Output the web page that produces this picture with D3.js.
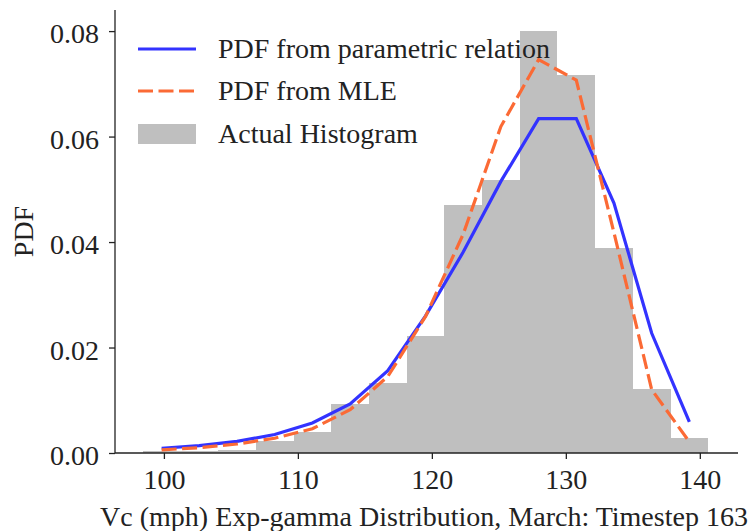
<!DOCTYPE html>
<html>
<head>
<meta charset="utf-8">
<script src="https://cdn.jsdelivr.net/npm/d3@7"></script>
<style>
  body { margin: 0; background: #fff; }
  svg { display: block; }
  svg text { font-family: "Liberation Serif", "Times New Roman", serif; }
</style>
</head>
<body>
<svg id="chart" width="753" height="531"></svg>
<script>
// histogram bin edges (mph) and bar heights (density)
const binEdges = [98.42, 101.23, 104.05, 106.86, 109.68, 112.49, 115.30, 118.12,
  120.93, 123.75, 126.56, 129.37, 132.19, 135.00, 137.82, 140.63];
const histDensity = [0.0004, 0.0003, 0.0006, 0.0022, 0.0040, 0.0093, 0.0133, 0.0221,
  0.0470, 0.0518, 0.0800, 0.0716, 0.0389, 0.0121, 0.0028];

// both pdf curves are evaluated at the bin centres
const binCenters = [99.83, 102.64, 105.46, 108.27, 111.08, 113.90, 116.71, 119.53,
  122.34, 125.15, 127.97, 130.78, 133.59, 136.41, 139.22];
const pdfParametric = [0.0009, 0.0014, 0.0022, 0.0035, 0.0057, 0.0093, 0.0156, 0.0260,
  0.0381, 0.0515, 0.0634, 0.0634, 0.0474, 0.0227, 0.0059];
const pdfMLE = [0.0006, 0.0010, 0.0017, 0.0028, 0.0046, 0.0082, 0.0145, 0.0259,
  0.0415, 0.0619, 0.0746, 0.0707, 0.0418, 0.0120, 0.0021];

const xTicks = [100, 110, 120, 130, 140];
const yTicks = [0, 0.02, 0.04, 0.06, 0.08];
const legendLabels = ["PDF from parametric relation", "PDF from MLE", "Actual Histogram"];

const plotLeft = 115, plotRight = 738, plotTop = 10, plotBottom = 453;
const fontSize = 28;
const blue = "#3333ff", orange = "#fb6a35", dash = "15,5.5";

const svg = d3.select("#chart");

const x = d3.scaleLinear().domain([96.35, 142.85]).range([plotLeft, plotRight]);
const y = d3.scaleLinear().domain([0, 0.084]).range([plotBottom, plotTop]);

// histogram bars
svg.append("g")
  .selectAll("rect")
  .data(histDensity)
  .join("rect")
  .attr("x", (d, i) => x(binEdges[i]))
  .attr("width", (d, i) => x(binEdges[i + 1]) - x(binEdges[i]))
  .attr("y", d => y(d))
  .attr("height", d => y(0) - y(d))
  .attr("fill", "#bfbfbf")
  .attr("shape-rendering", "crispEdges");

const line = d3.line()
  .x(d => x(d[0]))
  .y(d => y(d[1]));

svg.append("path")
  .datum(d3.zip(binCenters, pdfParametric))
  .attr("d", line)
  .attr("fill", "none")
  .attr("stroke", blue)
  .attr("stroke-width", 3.2);

svg.append("path")
  .datum(d3.zip(binCenters, pdfMLE))
  .attr("d", line)
  .attr("fill", "none")
  .attr("stroke", orange)
  .attr("stroke-width", 3.2)
  .attr("stroke-dasharray", dash);

// axes: only left and bottom spines
const xAxis = svg.append("g")
  .attr("transform", `translate(0,${plotBottom})`)
  .call(d3.axisBottom(x).tickValues(xTicks).tickSize(6).tickPadding(8).tickFormat(d3.format("d")));
xAxis.select(".domain").attr("d", `M${plotLeft},0H${plotRight}`);

const yAxis = svg.append("g")
  .attr("transform", `translate(${plotLeft},0)`)
  .call(d3.axisLeft(y).tickValues(yTicks).tickSize(6).tickPadding(10).tickFormat(d3.format(".2f")));
yAxis.select(".domain").attr("d", `M0,${plotTop}V${plotBottom}`);

svg.selectAll("g").attr("font-family", null).attr("font-size", null);
svg.selectAll(".domain, .tick line").attr("stroke", "#222").attr("stroke-width", 1.3);
svg.selectAll(".tick text")
  .style("font-size", fontSize + "px")
  .attr("fill", "#222");
yAxis.selectAll(".tick text").attr("dy", "0.42em");
xAxis.selectAll(".tick text").attr("y", 36).attr("dy", null);

// axis titles
svg.append("text")
  .attr("x", 424)
  .attr("y", 526)
  .attr("text-anchor", "middle")
  .style("font-size", fontSize + "px")
  .attr("fill", "#222")
  .text("Vc (mph) Exp-gamma Distribution, March: Timestep 163");

svg.append("text")
  .attr("transform", `translate(33,${(plotTop + plotBottom) / 2}) rotate(-90)`)
  .attr("text-anchor", "middle")
  .style("font-size", fontSize + "px")
  .attr("fill", "#222")
  .text("PDF");

// legend, no frame
const legend = svg.append("g");
const rowY = [49, 91, 134];
legend.append("line")
  .attr("x1", 138).attr("x2", 196).attr("y1", rowY[0]).attr("y2", rowY[0])
  .attr("stroke", blue).attr("stroke-width", 3.2);
legend.append("line")
  .attr("x1", 138).attr("x2", 196).attr("y1", rowY[1]).attr("y2", rowY[1])
  .attr("stroke", orange).attr("stroke-width", 3.2).attr("stroke-dasharray", dash);
legend.append("rect")
  .attr("x", 138).attr("y", rowY[2] - 10).attr("width", 58).attr("height", 20)
  .attr("fill", "#bfbfbf");
legend.selectAll("text")
  .data(legendLabels)
  .join("text")
  .attr("x", 218)
  .attr("y", (d, i) => rowY[i])
  .attr("dy", "0.33em")
  .style("font-size", fontSize + "px")
  .attr("fill", "#222")
  .text(d => d);
</script>
</body>
</html>
